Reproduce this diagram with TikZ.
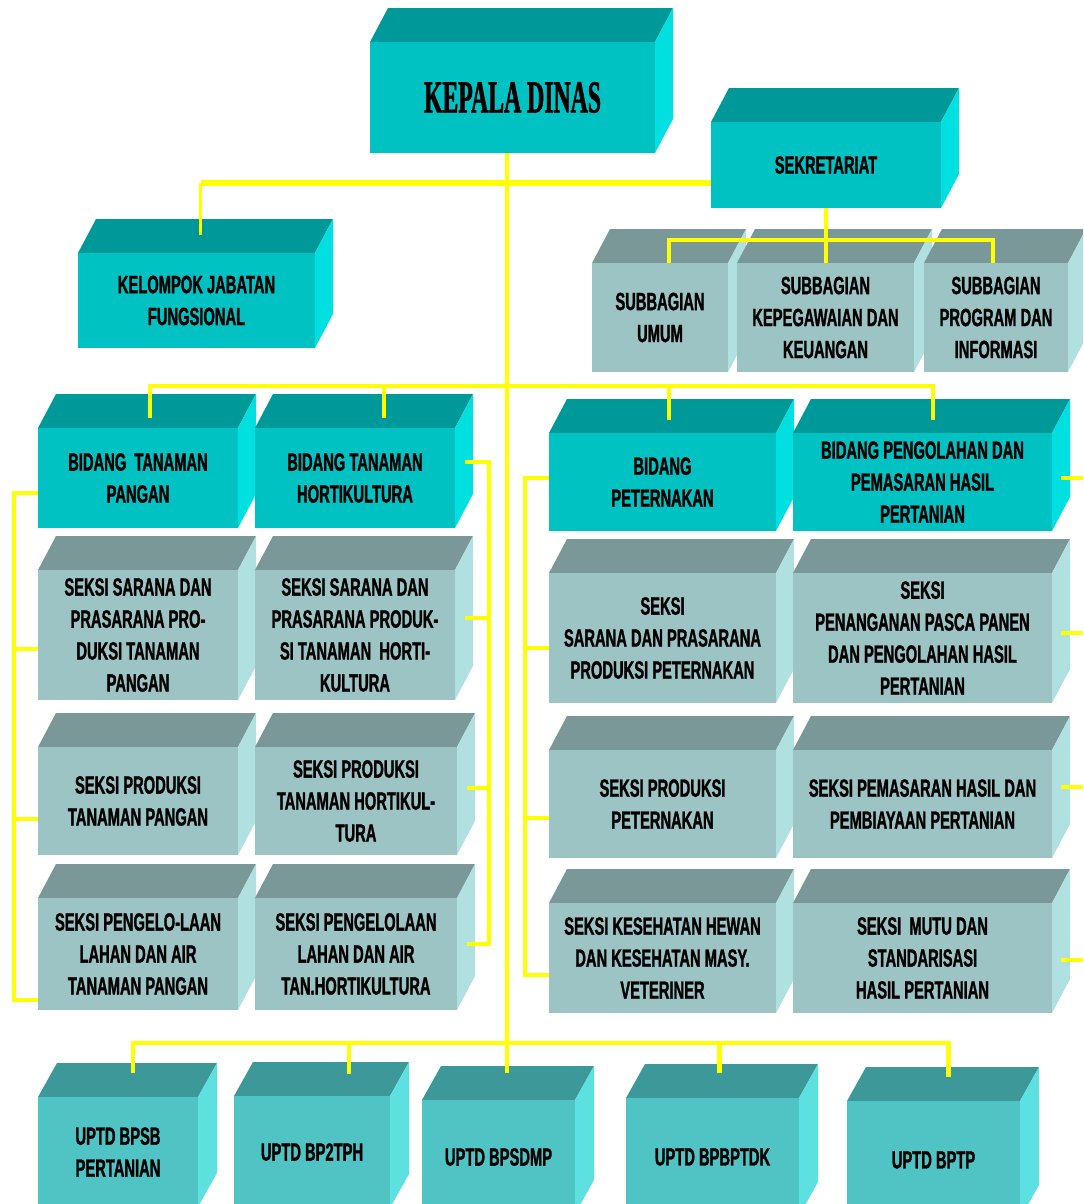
\documentclass[tikz,border=0pt]{standalone}
\usepackage{fontspec}
\usetikzlibrary{calc}
\newfontfamily\boxfont{Liberation Sans}[FakeStretch=0.59,FakeBold=1.2]
\newfontfamily\kdfont{Liberation Serif}[FakeStretch=0.52,FakeBold=1.2]
\definecolor{AT}{HTML}{009999}\definecolor{AF}{HTML}{00C2C2}\definecolor{AS}{HTML}{00E0E0}
\definecolor{GT}{HTML}{7A9898}\definecolor{GF}{HTML}{9DC4C4}\definecolor{GS}{HTML}{B0E0E0}
\definecolor{UT}{HTML}{3D9999}\definecolor{UF}{HTML}{50C4C4}\definecolor{US}{HTML}{5CE0E0}
\definecolor{YL}{HTML}{FFFF00}
\def\bdx{18}\def\bdy{34}
\newcommand\mkbox[7]{%
  \fill[#6top] (#2,#3) -- (#2+\bdx,#3-\bdy) -- (#4+\bdx,#3-\bdy) -- (#4,#3) -- cycle;
  \fill[#6side] (#4,#3) -- (#4+\bdx,#3-\bdy) -- (#4+\bdx,#5-\bdy) -- (#4,#5) -- cycle;
  \node[#6front, minimum width={(#4-#2)*0.02cm}, minimum height={(#5-#3)*0.02cm}]
    (#1) at ({(#2+#4)/2},{(#3+#5)/2}) {#7};
}
\tikzset{
  boxtext/.style={inner sep=0pt, outer sep=0pt, align=center, text=black,
    font=\boxfont\bfseries\fontsize{14.2}{18.2}\selectfont},
  Atop/.style={fill=AT}, Aside/.style={fill=AS}, Afront/.style={boxtext, fill=AF},
  Gtop/.style={fill=GT}, Gside/.style={fill=GS}, Gfront/.style={boxtext, fill=GF},
  Utop/.style={fill=UT}, Uside/.style={fill=US}, Ufront/.style={boxtext, fill=UF},
  yl/.style={draw=YL, line width=2.4pt},
  ylthin/.style={draw=YL, line width=1.8pt},
  ylthick/.style={draw=YL, line width=3.4pt},
}
\begin{document}
\begin{tikzpicture}[x=0.02cm,y=-0.02cm]
\path[use as bounding box] (0,0) rectangle (1083,1204);
\clip (0,0) rectangle (1083,1204);
% ---- teal boxes
\mkbox{kd}{370}{42}{655}{153}{A}{\kdfont\bfseries\fontsize{26}{30}\selectfont KEPALA DINAS}
\mkbox{sek}{711}{122}{941}{208}{A}{SEKRETARIAT}
\mkbox{kjf}{78}{253}{315}{348}{A}{KELOMPOK JABATAN\\FUNGSIONAL}
% ---- subbagian
\mkbox{su}{592}{263}{728}{372}{G}{SUBBAGIAN\\UMUM}
\mkbox{skk}{737}{263}{914}{372}{G}{SUBBAGIAN\\KEPEGAWAIAN DAN\\KEUANGAN}
\mkbox{spi}{924}{263}{1068}{372}{G}{SUBBAGIAN\\PROGRAM DAN\\INFORMASI}
% ---- bidang
\mkbox{btp}{38}{428}{238}{528}{A}{BIDANG\ \ TANAMAN\\PANGAN}
\mkbox{bth}{255}{428}{455}{528}{A}{BIDANG TANAMAN\\HORTIKULTURA}
\mkbox{bp}{549}{433}{776}{531}{A}{BIDANG\\PETERNAKAN}
\mkbox{bpp}{793}{433}{1052}{531}{A}{BIDANG PENGOLAHAN DAN\\PEMASARAN HASIL\\PERTANIAN}
% ---- seksi left
\mkbox{s11}{38}{570}{238}{700}{G}{SEKSI SARANA DAN\\PRASARANA PRO-\\DUKSI TANAMAN\\PANGAN}
\mkbox{s12}{255}{570}{455}{700}{G}{SEKSI SARANA DAN\\PRASARANA PRODUK-\\SI TANAMAN\ \ HORTI-\\KULTURA}
\mkbox{s21}{38}{747}{238}{855}{G}{SEKSI PRODUKSI\\TANAMAN PANGAN}
\mkbox{s22}{255}{747}{457}{855}{G}{SEKSI PRODUKSI\\TANAMAN HORTIKUL-\\TURA}
\mkbox{s31}{38}{898}{238}{1010}{G}{SEKSI PENGELO-LAAN\\LAHAN DAN AIR\\TANAMAN PANGAN}
\mkbox{s32}{255}{898}{457}{1010}{G}{SEKSI PENGELOLAAN\\LAHAN DAN AIR\\TAN.HORTIKULTURA}
% ---- seksi right
\mkbox{r11}{549}{573}{776}{703}{G}{SEKSI\\SARANA DAN PRASARANA\\PRODUKSI PETERNAKAN}
\mkbox{r12}{793}{573}{1052}{703}{G}{SEKSI\\PENANGANAN PASCA PANEN\\DAN PENGOLAHAN HASIL\\PERTANIAN}
\mkbox{r21}{549}{750}{776}{858}{G}{SEKSI PRODUKSI\\PETERNAKAN}
\mkbox{r22}{793}{750}{1052}{858}{G}{SEKSI PEMASARAN HASIL DAN\\PEMBIAYAAN PERTANIAN}
\mkbox{r31}{549}{903}{776}{1013}{G}{SEKSI KESEHATAN HEWAN\\DAN KESEHATAN MASY.\\VETERINER}
\mkbox{r32}{793}{903}{1052}{1013}{G}{SEKSI\ \ MUTU DAN\\STANDARISASI\\HASIL PERTANIAN}
% ---- UPTD
\def\bdx{19}
\mkbox{u1}{38}{1097}{198}{1207}{U}{UPTD BPSB\\PERTANIAN}
\mkbox{u2}{234}{1096}{390}{1208}{U}{UPTD BP2TPH}
\mkbox{u3}{422}{1100}{575}{1214}{U}{UPTD BPSDMP}
\mkbox{u4}{626}{1098}{799}{1216}{U}{UPTD BPBPTDK}
\mkbox{u5}{847}{1101}{1020}{1219}{U}{UPTD BPTP}
% ---- connector coordinates
\coordinate (h1) at (0,183);
\coordinate (h2) at (0,240);
\coordinate (h3) at (0,386);
\coordinate (h4) at (0,1043);
\coordinate (lbx) at (14,0);
\coordinate (rbx) at (489,0);
\coordinate (pbx) at (525,0);
\coordinate (edge) at (1095,0);
\coordinate (kjf-t) at ($(kjf.north)+(4,-18)$);
\coordinate (su-t) at ($(su.north)+(9,0)$);
\coordinate (spi-t) at ($(spi.north)+(-3,0)$);
\coordinate (btp-t) at ($(btp.north)+(12,-10)$);
\coordinate (bth-t) at ($(bth.north)+(29,-10)$);
\coordinate (bp-t) at ($(bp.north)+(6.5,-13)$);
\coordinate (bpp-t) at ($(bpp.north)+(10.5,-13)$);
\coordinate (u1-t) at ($(u1.north)+(15,-24)$);
\coordinate (u2-t) at ($(u2.north)+(37,-22)$);
\coordinate (u3-t) at ($(u3.north)+(8.5,-27)$);
\coordinate (u4-t) at ($(u4.north)+(7,-25)$);
\coordinate (u5-t) at ($(u5.north)+(15,-24)$);
\coordinate (btpL) at ($(btp.west)+(0,15)$);
\coordinate (s11L) at ($(s11.west)+(0,14)$);
\coordinate (s21L) at ($(s21.west)+(0,18)$);
\coordinate (s31L) at ($(s31.west)+(0,46)$);
\coordinate (bthR) at ($(bth.east)+(10,-16)$);
\coordinate (s12R) at ($(s12.east)+(10,-17)$);
\coordinate (s22R) at ($(s22.east)+(10,-13)$);
\coordinate (s32R) at ($(s32.east)+(10,-10)$);
\coordinate (bpL) at ($(bp.west)+(0,-4)$);
\coordinate (r11L) at ($(r11.west)+(0,10)$);
\coordinate (r21L) at ($(r21.west)+(0,14)$);
\coordinate (r31L) at ($(r31.west)+(0,17)$);
\coordinate (bppR) at ($(bpp.east)+(9,-4)$);
\coordinate (r12R) at ($(r12.east)+(9,-5)$);
\coordinate (r22R) at ($(r22.east)+(9,-17)$);
\coordinate (r32R) at ($(r32.east)+(9,2)$);
% ---- connectors
\draw[ylthin] (kd.south -| u3-t) -- (u3-t);
\draw[ylthin] (kjf-t) -- (kjf-t |- h1);
\draw[ylthick] (kjf-t |- h1) -- (sek.west |- h1);
\draw[yl] (sek.south) -- (sek.south |- skk.north);
\draw[yl] (su-t) |- (h2 -| spi-t) -- (spi-t);
\draw[yl] (btp-t) |- (h3 -| bpp-t) -- (bpp-t);
\draw[yl] (bth-t) -- (bth-t |- h3);
\draw[yl] (bp-t) -- (bp-t |- h3);
\draw[yl] (btpL) -| (lbx |- s31L) -- (s31L);
\draw[yl] (s11L) -- (s11L -| lbx);
\draw[yl] (s21L) -- (s21L -| lbx);
\draw[yl] (bthR) -| (rbx |- s32R) -- (s32R);
\draw[yl] (s12R) -- (s12R -| rbx);
\draw[yl] (s22R) -- (s22R -| rbx);
\draw[yl] (bpL) -| (pbx |- r31L) -- (r31L);
\draw[yl] (r11L) -- (r11L -| pbx);
\draw[yl] (r21L) -- (r21L -| pbx);
\draw[yl] (bppR) -- (bppR -| edge);
\draw[yl] (r12R) -- (r12R -| edge);
\draw[yl] (r22R) -- (r22R -| edge);
\draw[yl] (r32R) -- (r32R -| edge);
\draw[yl] (u1-t) |- (h4 -| u5-t) -- (u5-t);
\draw[yl] (u2-t) -- (u2-t |- h4);
\draw[yl] (u4-t) -- (u4-t |- h4);
\end{tikzpicture}
\end{document}
